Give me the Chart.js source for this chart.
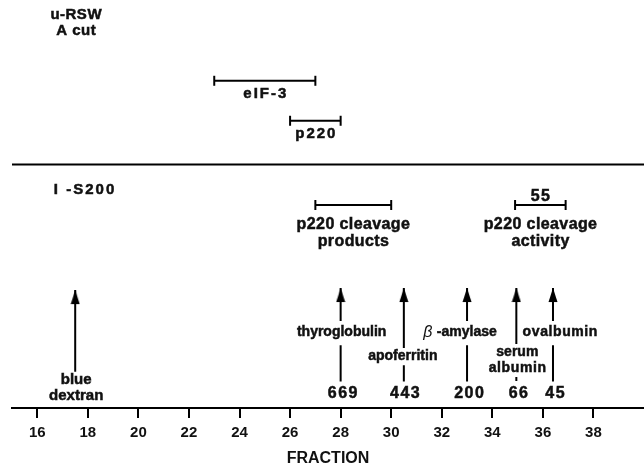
<!DOCTYPE html>
<html>
<head>
<meta charset="utf-8">
<script src="https://cdn.jsdelivr.net/npm/chart.js@4.4.1/dist/chart.umd.min.js"></script>
<style>
  html, body { margin: 0; padding: 0; background: #fff; }
</style>
</head>
<body>
<canvas id="myChart" width="644" height="465"></canvas>
<script>
// fraction axis
var fractionMin = 15;
var fractionMax = 40;
var fractionTicks = [16, 18, 20, 22, 24, 26, 28, 30, 32, 34, 36, 38];

// peaks (first / last fraction) on the u-RSW A cut run and on the I-S200 run
var rangeNames = ['eIF-3', 'p220', 'p220 cleavage\nproducts', 'p220 cleavage\nactivity'];
var rangeStart = [23, 26, 27, 34.9];
var rangeEnd = [27, 28, 30, 36.9];
var rangeNote = ['', '', '', '55'];

// size markers and the fraction where each came off
var markerNames = ['blue\ndextran', 'thyroglobulin', 'apoferritin', '\u03B2 -amylase', 'serum\nalbumin', 'ovalbumin'];
var markerFractions = [17.5, 28, 30.5, 33, 34.95, 36.4];
var markerMW = ['', '669', '443', '200', '66', '45'];

var panelNames = ['u-RSW\nA cut', 'I -S200'];

// ---- layout: heights on a hidden 0-100 axis, pixel nudges for the text ----
var FONT = '"Liberation Sans", Arial, sans-serif';
var layoutPos = {
  separator: 59.7,
  rangeLevel: [80.2, 70.4, 49.75, 49.75],
  rangeLabelLevel: [77.1, 67.2, 45, 45],
  rangeNoteLevel: 51.8,
  arrowTip: [28.9, 29.4, 29.4, 29.4, 29.4, 29.4],
  upperEnd: [8.9, 21.3, 14.7, 21.3, 15.7, 21.3],
  lowerTop: [null, 15.4, 10.5, 15.4, 7.6, 15.4],
  lowerEnd: [null, 6.5, 6.5, 6.5, 6.6, 6.5],
  markerLabelLevel: [6.9, 18.6, 12.7, 18.6, 13.6, 18.6],
  markerLabelDx: [1, 1, -1, -7, 1, 7],
  mwLevel: 3.6,
  mwDx: [0, 2, 1, 2, 2, 2],
  panelX: [17.53, 17.85],
  panelLevel: [96.3, 53.4],
  lineStep: 3.9
};

// arrow head drawn once, tip sits at the centre of the image
function makeArrowHead() {
  var c = document.createElement('canvas');
  c.width = 10;
  c.height = 30;
  var g = c.getContext('2d');
  g.fillStyle = '#000';
  g.beginPath();
  g.moveTo(5, 15);
  g.lineTo(9.5, 29);
  g.lineTo(0.5, 29);
  g.closePath();
  g.fill();
  return c;
}
var arrowHead = makeArrowHead();

var datasets = [];

// line between the two runs
datasets.push({
  data: [{ x: fractionMin, y: layoutPos.separator }, { x: fractionMax, y: layoutPos.separator }],
  showLine: true, borderColor: '#000', borderWidth: 2, pointRadius: 0
});

// peak ranges with end caps
rangeNames.forEach(function (name, i) {
  datasets.push({
    data: [{ x: rangeStart[i], y: layoutPos.rangeLevel[i] }, { x: rangeEnd[i], y: layoutPos.rangeLevel[i] }],
    showLine: true, borderColor: '#000', borderWidth: 2,
    pointStyle: 'line', rotation: 90, pointRadius: 5, pointBorderWidth: 2,
    pointBorderColor: '#000', pointBackgroundColor: '#000'
  });
});

// marker arrows, the shaft is broken where the label sits
markerNames.forEach(function (name, i) {
  var f = markerFractions[i];
  var pts = [{ x: f, y: layoutPos.arrowTip[i] }, { x: f, y: layoutPos.upperEnd[i] }];
  if (layoutPos.lowerTop[i] !== null) {
    pts.push({ x: f, y: null });
    pts.push({ x: f, y: layoutPos.lowerTop[i] });
    pts.push({ x: f, y: layoutPos.lowerEnd[i] });
  }
  datasets.push({
    data: pts, showLine: true, spanGaps: false,
    borderColor: '#000', borderWidth: 2, pointRadius: 0
  });
});

// arrow heads
datasets.push({
  data: markerFractions.map(function (f, i) { return { x: f, y: layoutPos.arrowTip[i] }; }),
  showLine: false, pointStyle: arrowHead, pointRadius: 5
});

function drawText(ctx, str, x, y, size, spacing) {
  ctx.font = 'bold ' + size + 'px ' + FONT;
  ctx.letterSpacing = (spacing || 0) + 'px';
  ctx.fillText(str, x + (spacing || 0) / 2, y);
  ctx.strokeText(str, x + (spacing || 0) / 2, y);
}

var textPlugin = {
  id: 'texts',
  afterDatasetsDraw: function (chart) {
    var ctx = chart.ctx;
    var xs = chart.scales.x;
    var ys = chart.scales.y;
    var step = layoutPos.lineStep;
    ctx.save();
    ctx.fillStyle = '#111';
    ctx.strokeStyle = '#111';
    ctx.lineWidth = 0.5;
    ctx.textAlign = 'center';
    ctx.textBaseline = 'middle';

    panelNames.forEach(function (name, i) {
      name.split('\n').forEach(function (line, k) {
        drawText(ctx, line, xs.getPixelForValue(layoutPos.panelX[i]),
          ys.getPixelForValue(layoutPos.panelLevel[i] - k * step), 15, i === 1 ? 2 : 0.5);
      });
    });

    rangeNames.forEach(function (name, i) {
      var cx = xs.getPixelForValue((rangeStart[i] + rangeEnd[i]) / 2);
      name.split('\n').forEach(function (line, k) {
        var size = i < 2 ? 15 : 16;
        var sp = i < 2 ? 2 : 0.4;
        drawText(ctx, line, cx, ys.getPixelForValue(layoutPos.rangeLabelLevel[i] - k * step * 1.1), size, sp);
      });
      if (rangeNote[i]) {
        drawText(ctx, rangeNote[i], cx, ys.getPixelForValue(layoutPos.rangeNoteLevel), 16, 1.5);
      }
    });

    markerNames.forEach(function (name, i) {
      var cx = xs.getPixelForValue(markerFractions[i]) + layoutPos.markerLabelDx[i];
      var size = i === 0 ? 15 : 14;
      name.split('\n').forEach(function (line, k) {
        var y = ys.getPixelForValue(layoutPos.markerLabelLevel[i] - k * step);
        if (line.charAt(0) === '\u03B2') {
          // italic beta in front of the bold word
          ctx.letterSpacing = '0px';
          ctx.font = 'italic 16px ' + FONT;
          var wb = ctx.measureText('\u03B2 ').width;
          ctx.font = 'bold 14px ' + FONT;
          var rest = line.slice(2);
          var wr = ctx.measureText(rest).width;
          var left = cx - (wb + wr) / 2;
          ctx.textAlign = 'left';
          ctx.font = 'italic 16px ' + FONT;
          ctx.fillText('\u03B2', left, y);
          ctx.font = 'bold 14px ' + FONT;
          ctx.fillText(rest, left + wb, y);
          ctx.strokeText(rest, left + wb, y);
          ctx.textAlign = 'center';
        } else {
          drawText(ctx, line, cx, y, size, /min$/.test(line) ? 0.6 : 0);
        }
      });
      if (markerMW[i]) {
        drawText(ctx, markerMW[i], xs.getPixelForValue(markerFractions[i]) + layoutPos.mwDx[i],
          ys.getPixelForValue(layoutPos.mwLevel), 16, 1.5);
      }
    });

    ctx.restore();
  }
};

var ctx = document.getElementById('myChart').getContext('2d');
var myChart = new Chart(ctx, {
  type: 'scatter',
  data: { datasets: datasets },
  plugins: [textPlugin],
  options: {
    responsive: false,
    animation: false,
    clip: false,
    layout: { autoPadding: false, padding: { left: 12, right: 0, top: 0, bottom: 0 } },
    plugins: { legend: { display: false }, tooltip: { enabled: false } },
    scales: {
      x: {
        type: 'linear',
        min: fractionMin,
        max: fractionMax,
        afterBuildTicks: function (scale) {
          scale.ticks = fractionTicks.map(function (v) { return { value: v }; });
        },
        grid: { drawOnChartArea: false, drawTicks: true, tickLength: 10, color: '#000', lineWidth: 2 },
        border: { display: true, color: '#000', width: 2 },
        ticks: {
          color: '#111', padding: 6, autoSkip: false, maxRotation: 0,
          font: { family: FONT, size: 15, weight: 'bold' }
        },
        title: {
          display: true, text: 'FRACTION', color: '#111',
          font: { family: FONT, size: 16, weight: 'bold', lineHeight: 1 },
          padding: { top: 3, bottom: -2 }
        }
      },
      y: { type: 'linear', min: 0, max: 100, display: false }
    }
  }
});
</script>
</body>
</html>
